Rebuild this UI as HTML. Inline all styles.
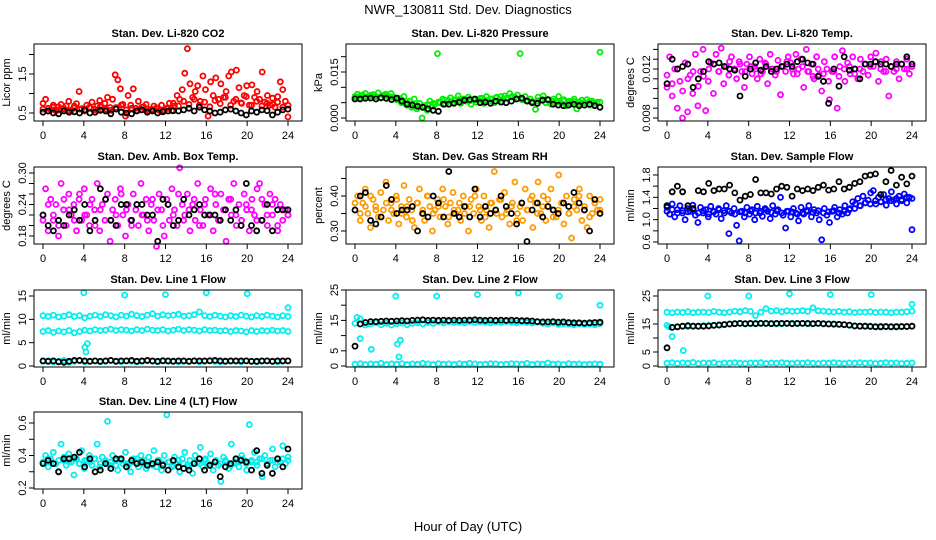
<!DOCTYPE html>
<html><head><meta charset="utf-8"><style>
html,body{margin:0;padding:0;background:#fff;}
svg{display:block;font-family:"Liberation Sans",sans-serif;}
</style></head><body>
<svg id="chart" width="936" height="540" viewBox="0 0 936 540">
<rect x="0" y="0" width="936" height="540" fill="#fff"/>
<text x="468" y="14" text-anchor="middle" font-size="13">NWR_130811  Std. Dev. Diagnostics</text>
<text x="468" y="531" text-anchor="middle" font-size="13">Hour of Day (UTC)</text>
<g id="panels"></g>
</svg>
<script>
// ---- data arrays ----
const xTicks = [0,4,8,12,16,20,24];
const co2Red = [0.75,0.85,0.62,0.58,0.70,0.55,0.66,0.72,0.60,0.68,0.80,0.57,0.63,0.74,1.05,0.61,
0.56,0.70,0.65,0.78,0.60,0.68,0.82,0.58,0.75,0.90,0.64,0.85,1.48,1.35,1.12,0.72,
0.42,0.95,0.70,1.12,0.62,0.80,0.58,0.66,0.72,0.55,0.60,0.68,0.63,0.57,0.70,0.58,
0.62,0.75,0.56,0.68,0.95,0.85,1.10,1.52,2.15,1.25,0.90,1.05,1.20,0.80,1.45,1.10,
0.42,1.30,0.95,1.40,0.85,1.25,0.90,1.05,1.45,1.55,0.80,1.60,1.15,0.75,0.95,1.20,
0.70,1.22,0.90,1.05,0.85,1.55,0.78,0.95,0.70,0.88,0.65,0.92,1.30,1.10,0.80,0.40];
const co2RedBase = [0.60,0.55,0.65,0.58,0.62,0.56,0.68,0.60,0.55,0.63,0.58,0.66,0.60,0.57,0.64,0.70,0.58,0.62,0.56,0.65,0.60,0.58,0.63,0.57,0.62,0.75,0.68,0.80,0.72,0.85,0.70,0.78,0.66,0.82,0.74,0.90,0.70,0.85,0.76,0.92,0.70,0.80,0.68,0.75,0.72,0.78,0.65,0.70];
const co2Black = [0.52,0.55,0.50,0.48,0.55,0.52,0.53,0.50,0.58,0.50,0.52,0.57,0.55,0.48,0.60,0.52,0.50,0.48,0.55,0.58,0.52,0.55,0.50,0.53,0.55,0.56,0.55,0.58,0.62,0.55,0.65,0.58,0.55,0.50,0.52,0.58,0.60,0.55,0.50,0.45,0.55,0.52,0.58,0.56,0.45,0.52,0.58,0.60];
const pressGreen = [0.0070,0.0078,0.0065,0.0075,0.0080,0.0068,0.0072,0.0076,0.0070,0.0082,0.0066,0.0074,0.0078,0.0070,0.0080,0.0068,
0.0060,0.0065,0.0050,0.0070,0.0042,0.0055,0.0035,0.0062,0.0030,0.0048,0.0000,0.0040,0.0025,0.0055,0.0038,0.0045,
0.0210,0.0050,0.0062,0.0045,0.0058,0.0066,0.0050,0.0060,0.0072,0.0048,0.0062,0.0055,0.0068,0.0045,0.0060,0.0052,
0.0058,0.0065,0.0048,0.0070,0.0055,0.0062,0.0050,0.0068,0.0060,0.0052,0.0072,0.0065,0.0080,0.0070,0.0068,0.0075,
0.0210,0.0060,0.0070,0.0055,0.0062,0.0050,0.0028,0.0068,0.0058,0.0072,0.0050,0.0060,0.0045,0.0062,0.0055,0.0070,
0.0048,0.0060,0.0040,0.0055,0.0050,0.0062,0.0030,0.0045,0.0058,0.0050,0.0060,0.0042,0.0055,0.0048,0.0052,0.0215];
const pressGreenBase = [0.0066,0.0072,0.0068,0.0074,0.0070,0.0066,0.0072,0.0068,0.0064,0.0058,0.0050,0.0046,0.0040,0.0036,0.0044,0.0048,0.0052,0.0056,0.0054,0.0058,0.0060,0.0062,0.0056,0.0060,0.0064,0.0058,0.0062,0.0066,0.0070,0.0064,0.0068,0.0062,0.0060,0.0058,0.0054,0.0056,0.0060,0.0058,0.0054,0.0052,0.0056,0.0050,0.0054,0.0052,0.0050,0.0054,0.0050,0.0052];
const pressBlack = [0.0062,0.0062,0.0064,0.0065,0.0062,0.0066,0.0064,0.0060,0.0065,0.0055,0.0045,0.0042,0.0038,0.0035,0.0030,0.0025,0.0022,0.0045,0.0045,0.0048,0.0052,0.0058,0.0060,0.0062,0.0050,0.0052,0.0048,0.0055,0.0052,0.0050,0.0055,0.0062,0.0065,0.0055,0.0050,0.0048,0.0058,0.0060,0.0045,0.0042,0.0040,0.0042,0.0045,0.0040,0.0042,0.0045,0.0040,0.0035];
const tempMag = [0.0105,0.0130,0.0098,0.0120,0.0088,0.0110,0.0080,0.0125,0.0085,0.0115,0.0100,0.0132,0.0090,0.0118,0.0136,0.0086,
0.0110,0.0125,0.0100,0.0132,0.0118,0.0137,0.0108,0.0122,0.0115,0.0130,0.0120,0.0112,0.0126,0.0118,0.0105,0.0124,
0.0130,0.0116,0.0122,0.0112,0.0128,0.0118,0.0125,0.0108,0.0132,0.0120,0.0115,0.0127,0.0099,0.0122,0.0118,0.0130,
0.0125,0.0116,0.0132,0.0120,0.0128,0.0105,0.0136,0.0118,0.0124,0.0112,0.0130,0.0115,0.0102,0.0126,0.0120,0.0095,
0.0118,0.0130,0.0088,0.0122,0.0135,0.0110,0.0125,0.0116,0.0130,0.0120,0.0112,0.0128,0.0118,0.0124,0.0115,0.0130,
0.0122,0.0133,0.0110,0.0126,0.0118,0.0128,0.0098,0.0122,0.0118,0.0126,0.0112,0.0124,0.0120,0.0128,0.0116,0.0122];
const tempMagBase = [0.0115,0.0108,0.0120,0.0102,0.0112,0.0118,0.0106,0.0114,0.0120,0.0124,0.0118,0.0122,0.0126,0.0120,0.0124,0.0118,0.0122,0.0120,0.0116,0.0124,0.0120,0.0118,0.0122,0.0126,0.0120,0.0116,0.0122,0.0118,0.0114,0.0120,0.0116,0.0110,0.0118,0.0114,0.0120,0.0122,0.0116,0.0120,0.0124,0.0122,0.0126,0.0120,0.0118,0.0122,0.0120,0.0124,0.0120,0.0122];
const tempBlack = [0.0108,0.0128,0.0120,0.0122,0.0124,0.0105,0.0112,0.0118,0.0126,0.0124,0.0125,0.0122,0.0120,0.0119,0.0098,0.0114,0.0120,0.0125,0.0119,0.0122,0.0118,0.0120,0.0122,0.0124,0.0122,0.0126,0.0128,0.0125,0.0124,0.0114,0.0110,0.0092,0.0120,0.0106,0.0130,0.0119,0.0120,0.0112,0.0124,0.0124,0.0126,0.0124,0.0124,0.0122,0.0124,0.0124,0.0130,0.0124];
const ambMag = [0.22,0.27,0.19,0.25,0.21,0.24,0.18,0.28,0.23,0.20,0.26,0.22,0.24,0.19,0.25,0.21,
0.27,0.22,0.20,0.25,0.23,0.28,0.19,0.24,0.21,0.26,0.17,0.23,0.25,0.20,0.27,0.22,
0.18,0.24,0.21,0.26,0.23,0.20,0.28,0.22,0.25,0.19,0.24,0.21,0.16,0.26,0.23,0.18,
0.25,0.21,0.27,0.23,0.20,0.31,0.24,0.22,0.26,0.19,0.24,0.21,0.28,0.23,0.20,0.25,
0.22,0.27,0.19,0.24,0.21,0.26,0.23,0.17,0.25,0.22,0.28,0.20,0.24,0.21,0.26,0.23,
0.19,0.25,0.22,0.27,0.28,0.21,0.24,0.20,0.26,0.22,0.25,0.19,0.24,0.21,0.23,0.22];
const ambMagBase = [0.21,0.24,0.22,0.20,0.25,0.23,0.21,0.26,0.22,0.24,0.20,0.23,0.25,0.21,0.22,0.26,0.23,0.20,0.24,0.22,0.21,0.25,0.23,0.20,0.24,0.22,0.26,0.21,0.23,0.25,0.20,0.24,0.22,0.26,0.21,0.23,0.25,0.22,0.20,0.24,0.23,0.21,0.25,0.22,0.24,0.20,0.23,0.22];
const ambBlack = [0.22,0.20,0.19,0.21,0.20,0.22,0.23,0.21,0.24,0.19,0.21,0.27,0.25,0.21,0.20,0.24,0.24,0.21,0.24,0.24,0.22,0.22,0.17,0.25,0.24,0.20,0.21,0.25,0.22,0.23,0.24,0.22,0.22,0.22,0.21,0.23,0.21,0.23,0.20,0.28,0.20,0.19,0.21,0.24,0.19,0.23,0.23,0.23];
const rhOrange = [0.36,0.40,0.33,0.38,0.42,0.35,0.31,0.39,0.37,0.34,0.41,0.36,0.44,0.33,0.38,0.35,
0.40,0.32,0.37,0.43,0.34,0.39,0.36,0.31,0.38,0.42,0.35,0.33,0.40,0.37,0.30,0.36,
0.39,0.34,0.42,0.37,0.32,0.38,0.41,0.35,0.36,0.33,0.40,0.37,0.30,0.39,0.35,0.42,
0.37,0.33,0.40,0.36,0.31,0.38,0.47,0.35,0.39,0.34,0.41,0.36,0.32,0.38,0.44,0.35,
0.37,0.33,0.42,0.36,0.39,0.31,0.38,0.44,0.35,0.40,0.33,0.37,0.42,0.36,0.34,0.46,
0.38,0.32,0.40,0.35,0.28,0.39,0.36,0.42,0.33,0.37,0.31,0.40,0.35,0.38,0.36,0.39];
const rhOrangeBase = [0.38,0.35,0.37,0.40,0.36,0.34,0.38,0.36,0.39,0.35,0.37,0.33,0.38,0.36,0.40,0.35,0.37,0.39,0.34,0.36,0.38,0.35,0.37,0.40,0.36,0.34,0.38,0.36,0.39,0.35,0.37,0.33,0.38,0.36,0.40,0.35,0.37,0.39,0.34,0.36,0.38,0.35,0.37,0.40,0.36,0.34,0.38,0.36];
const rhBlack = [0.36,0.40,0.41,0.33,0.32,0.34,0.43,0.39,0.35,0.36,0.36,0.37,0.30,0.35,0.34,0.40,0.38,0.34,0.47,0.35,0.34,0.37,0.34,0.42,0.34,0.37,0.35,0.36,0.40,0.37,0.35,0.32,0.38,0.27,0.36,0.38,0.34,0.37,0.36,0.35,0.38,0.37,0.41,0.38,0.36,0.30,0.39,0.35];
const sfBlue = [1.22,1.10,1.28,1.05,1.18,1.25,1.12,1.00,1.20,1.15,1.26,1.08,0.95,1.22,1.12,1.18,
1.05,1.24,1.15,1.10,1.20,1.02,1.16,1.25,0.75,1.12,1.20,0.90,0.62,1.15,1.05,1.22,
1.10,1.18,1.00,1.24,1.12,1.06,1.20,1.15,1.02,1.25,1.10,1.18,1.40,1.08,0.85,1.15,
1.05,1.20,1.12,0.98,1.22,1.10,1.16,1.25,1.05,1.18,1.12,1.00,0.64,1.20,1.08,0.95,
1.15,1.22,1.05,1.18,1.10,1.25,1.12,1.20,1.32,1.28,1.38,1.25,1.42,1.30,1.35,1.48,
1.52,1.28,1.40,1.32,1.45,1.26,1.38,1.50,1.35,1.28,1.42,1.34,1.46,1.30,1.40,0.82];
const sfBlueBase = [1.15,1.18,1.12,1.16,1.14,1.18,1.12,1.16,1.10,1.14,1.18,1.12,1.15,1.10,1.14,1.12,1.16,1.12,1.15,1.18,1.13,1.16,1.12,1.15,1.14,1.10,1.12,1.15,1.13,1.16,1.12,1.14,1.16,1.12,1.15,1.18,1.20,1.25,1.30,1.28,1.34,1.32,1.36,1.34,1.38,1.36,1.40,1.38];
const sfBlack = [1.25,1.50,1.60,1.50,1.25,1.20,1.52,1.50,1.65,1.52,1.55,1.55,1.62,1.48,1.35,1.42,1.45,1.72,1.48,1.48,1.46,1.55,1.60,1.58,1.42,1.55,1.52,1.55,1.52,1.58,1.62,1.53,1.55,1.68,1.55,1.58,1.65,1.68,1.78,1.80,1.82,1.45,1.68,1.88,1.62,1.76,1.64,1.78];
const l1Hi = [10.8,10.6,10.9,10.5,10.7,11.0,10.6,10.8,10.3,10.7,10.9,10.6,11.0,10.8,10.5,10.9,10.7,11.1,10.8,10.6,10.9,11.2,10.7,11.0,10.8,10.9,11.1,10.7,10.8,11.0,11.6,10.8,10.6,10.9,10.7,10.5,10.8,10.6,10.9,10.7,10.5,10.8,10.6,10.9,10.7,10.5,10.8,10.6];
const l1Mid = [7.4,7.6,7.2,7.5,7.3,7.6,7.1,7.4,7.7,7.5,7.8,7.6,7.7,7.9,7.6,7.8,7.7,7.5,7.8,7.6,7.9,7.7,7.6,7.8,7.5,7.7,7.9,7.6,7.8,7.7,7.5,7.8,7.6,7.7,7.5,7.6,7.4,7.6,7.5,7.3,7.6,7.4,7.6,7.5,7.7,7.5,7.6,7.4];
const l1Lo = [1.0,1.1,0.9,1.0,1.2,0.8,1.0,1.1,0.9,1.0,1.1,0.9,1.0,1.2,1.0,0.9,1.1,1.0,0.9,1.0,1.1,1.0,0.9,1.2,1.0,1.1,0.9,1.0,1.0,1.1,0.9,1.0,1.2,1.0,0.9,1.1,1.0,1.0,0.9,1.1,1.0,0.9,1.0,1.1,1.0,0.9,1.0,1.1];
const l1Black = [1.1,1.0,1.1,0.9,0.8,1.0,1.2,1.2,1.1,1.0,1.1,1.0,1.1,1.2,1.0,1.1,1.1,1.2,1.0,1.1,1.2,1.1,1.0,1.1,1.1,1.0,1.1,1.1,1.0,1.1,1.1,1.1,1.1,1.2,1.1,1.0,1.1,1.1,1.1,1.1,1.0,1.0,1.1,1.1,1.0,1.1,1.1,1.1];
const l1SpikeT = [4.0,4.1,4.2,4.35,8.0,12.0,16.0,20.0,24.0];
const l1SpikeV = [15.7,4.0,3.0,4.8,15.2,15.3,15.7,15.5,12.5];
const l2Band = [14.0,15.5,13.5,13.8,14.2,13.6,14.0,13.5,13.9,14.1,13.6,14.0,14.2,13.8,14.3,14.0,14.5,14.2,14.6,14.3,14.4,14.2,14.6,14.3,14.5,14.4,14.2,14.5,14.3,14.6,14.4,14.2,14.5,14.3,14.1,14.4,14.0,13.8,14.1,13.7,13.9,13.8,13.6,13.9,13.7,13.8,13.6,13.9];
const l2Lo = [0.6,0.8,0.5,0.7,0.6,0.9,0.5,0.7,0.6,0.8,0.5,0.7,0.6,0.9,0.7,0.5,0.8,0.6,0.7,0.5,0.8,0.6,0.9,0.7,0.5,0.6,0.8,0.7,0.5,0.6,0.8,0.7,0.6,0.9,0.5,0.7,0.6,1.0,0.6,0.7,0.5,0.8,0.6,0.7,0.5,0.6,0.7,0.6];
const l2Black = [6.5,13.8,14.3,14.6,14.6,14.7,14.8,14.7,14.8,14.9,14.8,15.0,15.1,15.2,15.0,15.1,15.0,15.1,15.0,15.1,15.0,15.1,15.1,15.2,15.1,15.0,15.1,15.0,15.1,15.0,15.1,15.0,14.9,14.9,14.8,14.6,14.5,14.5,14.6,14.4,14.5,14.3,14.2,14.2,14.1,14.2,14.3,14.4];
const l2SpikeT = [0.2,0.5,1.6,4.0,4.15,4.3,4.45,8.0,12.0,16.0,20.0,24.0];
const l2SpikeV = [16.0,9.0,5.5,23.0,7.2,3.0,8.5,23.0,23.5,24.0,23.0,20.0];
const l3Hi = [19.2,19.0,19.3,19.1,19.4,19.0,19.2,19.3,19.1,19.5,19.2,19.0,19.3,19.6,19.4,19.8,19.5,18.0,19.2,20.5,19.6,19.8,19.4,19.7,19.5,19.6,19.8,19.5,20.8,19.7,19.6,19.4,19.3,19.5,19.2,19.4,19.1,19.3,19.2,19.4,19.1,19.3,19.2,19.0,19.3,19.2,19.4,19.6];
const l3Mid = [14.5,13.8,14.0,14.2,14.1,14.3,14.2,14.4,14.5,14.6,14.8,14.9,15.0,15.1,15.2,15.0,15.1,15.2,15.3,15.1,15.2,15.0,15.1,15.2,15.3,15.1,15.2,15.0,15.1,15.2,15.0,15.1,14.8,14.9,14.7,14.5,14.4,14.3,14.2,14.3,14.1,14.2,14.0,14.1,14.2,14.0,14.1,14.2];
const l3Lo = [1.0,1.2,0.9,1.1,1.0,1.3,0.9,1.1,1.0,1.2,0.8,1.1,1.0,1.2,1.0,0.9,1.1,1.0,1.2,0.9,1.1,1.0,1.2,1.0,0.9,1.1,1.0,1.2,1.0,0.9,1.1,1.0,1.2,1.0,0.9,1.1,1.0,1.2,1.0,1.1,0.9,1.0,1.2,1.0,1.1,0.9,1.0,1.1];
const l3Black = [6.5,13.8,14.0,14.2,14.4,14.2,14.2,14.2,14.3,14.5,14.6,14.8,15.0,15.1,15.2,15.1,15.2,15.1,15.2,15.2,15.1,15.2,15.2,15.2,15.1,15.2,15.2,15.2,15.1,15.2,15.1,15.0,15.0,14.9,14.8,14.6,14.3,14.2,14.2,14.1,14.0,14.0,14.1,14.0,14.0,14.1,14.1,14.2];
const l3SpikeT = [0.2,0.5,1.6,4.0,8.0,12.0,16.0,20.0,24.0];
const l3SpikeV = [14.0,10.5,5.5,25.0,25.0,25.8,25.5,25.5,22.0];
const l4Cyan = [0.36,0.40,0.33,0.38,0.42,0.35,0.30,0.47,0.37,0.34,0.41,0.36,0.28,0.38,0.35,0.43,
0.32,0.37,0.40,0.34,0.38,0.47,0.33,0.39,0.36,0.61,0.34,0.40,0.37,0.31,0.38,0.35,
0.42,0.34,0.30,0.38,0.36,0.33,0.40,0.37,0.32,0.39,0.35,0.43,0.33,0.37,0.31,0.40,
0.65,0.36,0.33,0.39,0.35,0.30,0.38,0.42,0.34,0.37,0.29,0.40,0.36,0.45,0.33,0.38,
0.35,0.41,0.31,0.37,0.34,0.24,0.39,0.36,0.32,0.47,0.35,0.38,0.33,0.40,0.37,0.31,
0.59,0.36,0.42,0.34,0.38,0.27,0.40,0.35,0.37,0.44,0.33,0.38,0.36,0.46,0.35,0.39];
const l4CyanBase = [0.36,0.38,0.35,0.37,0.39,0.36,0.38,0.35,0.37,0.36,0.38,0.35,0.37,0.36,0.34,0.37,0.35,0.36,0.38,0.35,0.36,0.34,0.37,0.35,0.36,0.34,0.37,0.35,0.33,0.36,0.35,0.37,0.34,0.36,0.35,0.37,0.34,0.36,0.38,0.35,0.37,0.36,0.38,0.35,0.37,0.36,0.38,0.37];
const l4Black = [0.35,0.37,0.35,0.30,0.38,0.38,0.39,0.42,0.33,0.38,0.30,0.31,0.35,0.32,0.38,0.38,0.33,0.37,0.35,0.36,0.34,0.35,0.36,0.34,0.31,0.37,0.33,0.32,0.31,0.35,0.38,0.31,0.34,0.36,0.27,0.33,0.35,0.38,0.37,0.36,0.31,0.43,0.29,0.34,0.29,0.38,0.33,0.44];

// ---- panel configuration (axis calibration, not data) ----
const colLeft = [34,346,658];
const rowTop = [44,167,290,412];
const boxW = 268, boxH = 77;
const panels = [
 {c:0,r:0,name:'co2',title:'Stan. Dev. Li-820 CO2',ylab:'Licor ppm',cal:[0.5,69,1.5,30],ticks:[0.5,1.0,1.5,2.0],labels:['0.5','1.5'],
  series:[['#ff0000',co2RedBase],['#ff0000',co2Red],['#000000',co2Black]]},
 {c:1,r:0,name:'pressure',title:'Stan. Dev. Li-820 Pressure',ylab:'kPa',cal:[0,74,0.015,28],ticks:[0,0.005,0.010,0.015,0.020],labels:['0.000','0.015'],
  series:[['#00ee00',pressGreenBase],['#00ee00',pressGreen],['#000000',pressBlack]]},
 {c:2,r:0,name:'temp',title:'Stan. Dev. Li-820 Temp.',ylab:'degrees C',cal:[0.008,74,0.012,25],ticks:[0.008,0.0088,0.0096,0.0104,0.0112,0.012,0.0128,0.0136],labels:['0.008','0.012'],
  series:[['#ff00ff',tempMagBase],['#ff00ff',tempMag],['#000000',tempBlack]]},
 {c:0,r:1,name:'amb-box',title:'Stan. Dev. Amb. Box Temp.',ylab:'degrees C',cal:[0.18,69,0.30,6],ticks:[0.18,0.20,0.22,0.24,0.26,0.28,0.30],labels:['0.18','0.24','0.30'],
  series:[['#ff00ff',ambMagBase],['#ff00ff',ambMag],['#000000',ambBlack]]},
 {c:1,r:1,name:'rh',title:'Stan. Dev. Gas Stream RH',ylab:'percent',cal:[0.30,64,0.40,29],ticks:[0.30,0.35,0.40,0.45],labels:['0.30','0.40'],
  series:[['#ff9900',rhOrangeBase],['#ff9900',rhOrange],['#000000',rhBlack]]},
 {c:2,r:1,name:'sample-flow',title:'Stan. Dev. Sample Flow',ylab:'ml/min',cal:[0.6,75,1.8,8],ticks:[0.6,0.8,1.0,1.2,1.4,1.6,1.8],labels:['0.6','1.0','1.4','1.8'],
  series:[['#0000ff',sfBlueBase],['#0000ff',sfBlue],['#000000',sfBlack]]},
 {c:0,r:2,name:'line1',title:'Stan. Dev. Line 1 Flow',ylab:'ml/min',cal:[0,76,15,6],ticks:[0,5,10,15],labels:['0','5','10','15'],
  series:[['#00eeee',l1Hi],['#00eeee',l1Mid],['#00eeee',l1Lo],['#00eeee',l1SpikeV,l1SpikeT],['#000000',l1Black]]},
 {c:1,r:2,name:'line2',title:'Stan. Dev. Line 2 Flow',ylab:'ml/min',cal:[0,76,25,0],ticks:[0,5,10,15,20,25],labels:['0','5','','15','','25'],
  series:[['#00eeee',l2Band],['#00eeee',l2Lo],['#00eeee',l2SpikeV,l2SpikeT],['#000000',l2Black]]},
 {c:2,r:2,name:'line3',title:'Stan. Dev. Line 3 Flow',ylab:'ml/min',cal:[0,76,25,6],ticks:[0,5,10,15,20,25],labels:['0','5','','15','','25'],
  series:[['#00eeee',l3Hi],['#00eeee',l3Mid],['#00eeee',l3Lo],['#00eeee',l3SpikeV,l3SpikeT],['#000000',l3Black]]},
 {c:0,r:3,name:'line4',title:'Stan. Dev. Line 4 (LT) Flow',ylab:'ml/min',cal:[0.2,76,0.6,11],ticks:[0.2,0.3,0.4,0.5,0.6],labels:['0.2','','0.4','','0.6'],
  series:[['#00eeee',l4CyanBase],['#00eeee',l4Cyan],['#000000',l4Black]]}
];

const NS = 'http://www.w3.org/2000/svg';
function mk(tag, attrs, parent){ const e=document.createElementNS(NS,tag); for(const k in attrs) e.setAttribute(k,attrs[k]); parent.appendChild(e); return e; }
const root = document.getElementById('panels');

panels.forEach(p=>{
  const L = colLeft[p.c], T = rowTop[p.r];
  const xs = h => L + 9 + h*(245/24);
  const ys = v => T + p.cal[1] + (v-p.cal[0])*(p.cal[3]-p.cal[1])/(p.cal[2]-p.cal[0]);
  const g = mk('g',{},root);
  
  
  const t = mk('text',{x:L+boxW/2,y:T-7,'text-anchor':'middle','font-size':'11','font-weight':'bold'},g);
  t.textContent = p.title;
  
  
  const yt = mk('text',{x:0,y:0,'text-anchor':'middle','font-size':'11',transform:`translate(${L-24},${T+boxH/2}) rotate(-90)`},g);
  yt.textContent = p.ylab;
  
  
  const pg = mk('g',{fill:'none','stroke-width':'1.8'},g);
  
  
  p.series.forEach(s=>{
    const vals = s[1], times = s[2];
    vals.forEach((v,i)=>{
      const h = times ? times[i] : i*24/(vals.length-1);
      const c = mk('circle',{cx:xs(h).toFixed(1),cy:ys(v).toFixed(1),r:'2.5',stroke:s[0]},pg);
      
      
    });
  });
  const b = mk('rect',{x:L,y:T,width:boxW,height:boxH,fill:'none',stroke:'#000','stroke-width':'1'},g);
  
  
  xTicks.forEach(h=>{
    const x = xs(h);
    mk('line',{x1:x,x2:x,y1:T+boxH,y2:T+boxH+5,stroke:'#000'},g);
    const tl = mk('text',{x:x,y:T+boxH+18,'text-anchor':'middle','font-size':'11'},g);
    tl.textContent = String(h);
    
    
  });
  p.ticks.forEach((v,i)=>{
    const y = ys(v);
    mk('line',{x1:L-5,x2:L,y1:y,y2:y,stroke:'#000'},g);
    let txt = null;
    if(p.labels.length===p.ticks.length) txt = p.labels[i];
    else { const f = p.labels.find(l=>Math.abs(parseFloat(l)-v)<1e-9); txt = f||null; }
    if(txt){
      const tl = mk('text',{x:0,y:0,'text-anchor':'middle','font-size':'11',transform:`translate(${L-8},${y}) rotate(-90)`},g);
      tl.textContent = txt;
      
      
    }
  });
});
</script>
</body></html>
